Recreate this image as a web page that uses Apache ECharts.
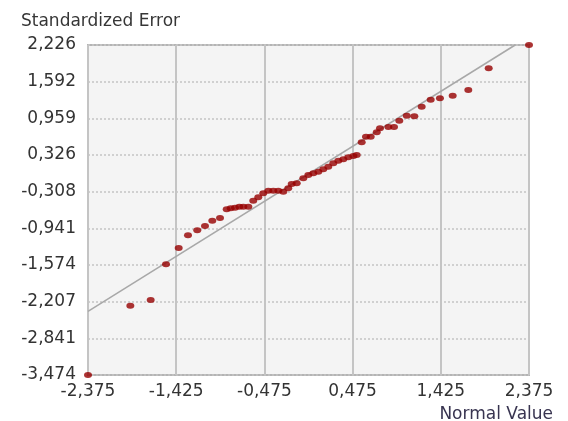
<!DOCTYPE html>
<html>
<head>
<meta charset="utf-8">
<script src="https://cdn.jsdelivr.net/npm/echarts@6/dist/echarts.min.js"></script>
<style>
html,body{margin:0;padding:0;background:#fff;}
#chart{width:568px;height:421px;}
</style>
</head>
<body>
<div id="chart"></div>
<script>
// Normal quantiles (x) and standardized errors (y)
const normalValue = [
  -2.375, -1.919, -1.700, -1.535, -1.398, -1.298, -1.198, -1.115, -1.036, -0.953,
  -0.881, -0.838, -0.792, -0.745, -0.702, -0.648, -0.595, -0.541, -0.487, -0.433,
  -0.379, -0.325, -0.271, -0.218, -0.181, -0.127, -0.056, -0.002, 0.052, 0.106,
  0.159, 0.213, 0.267, 0.321, 0.375, 0.429, 0.483, 0.519, 0.573, 0.619,
  0.670, 0.735, 0.770, 0.860, 0.921, 0.978, 1.058, 1.140, 1.219, 1.316,
  1.416, 1.553, 1.721, 1.941, 2.375
];
const standardizedError = [
  -3.474, -2.277, -2.179, -1.562, -1.280, -1.061, -0.975, -0.900, -0.809, -0.762,
  -0.612, -0.595, -0.584, -0.567, -0.567, -0.567, -0.463, -0.405, -0.336, -0.291,
  -0.291, -0.291, -0.308, -0.249, -0.175, -0.163, -0.076, -0.019, 0.010, 0.038,
  0.079, 0.124, 0.183, 0.228, 0.252, 0.286, 0.309, 0.326, 0.545, 0.642,
  0.642, 0.718, 0.787, 0.810, 0.810, 0.918, 1.005, 0.994, 1.160, 1.281,
  1.305, 1.350, 1.449, 1.824, 2.226
];
// Reference line
const refLineX = [-2.375, 2.226];
const refLineY = [-2.375, 2.226];

// Axis ticks
const xTickLabels = ['-2,375', '-1,425', '-0,475', '0,475', '1,425', '2,375'];
const yTickLabels = ['-3,474', '-2,841', '-2,207', '-1,574', '-0,941', '-0,308', '0,326', '0,959', '1,592', '2,226'];
const xMin = -2.375, xMax = 2.375;
const yMin = -3.474, yMax = 2.226;

const xInterval = (xMax - xMin) / (xTickLabels.length - 1);
const yInterval = (yMax - yMin) / (yTickLabels.length - 1);

const chart = echarts.init(document.getElementById('chart'), null, {renderer: 'canvas'});
const font = '"DejaVu Sans", Verdana, sans-serif';

chart.setOption({
  animation: false,
  backgroundColor: '#ffffff',
  title: [
    {text: 'Standardized Error', left: 16, top: 8,
     textStyle: {fontFamily: font, fontSize: 17, fontWeight: 'normal', color: '#363636'}},
    {text: 'Normal Value', right: 10, top: 401,
     textStyle: {fontFamily: font, fontSize: 17, fontWeight: 'normal', color: '#383450'}}
  ],
  grid: {
    left: 88, right: 39, top: 45, bottom: 46,
    show: true, backgroundColor: '#f4f4f4', borderColor: '#b4b4b4', borderWidth: 2
  },
  xAxis: {
    type: 'value', min: xMin, max: xMax, interval: xInterval,
    axisLine: {show: false}, axisTick: {show: false},
    axisLabel: {
      fontFamily: font, fontSize: 17, color: '#333', margin: 8,
      formatter: v => xTickLabels[Math.round((v - xMin) / xInterval)] || ''
    },
    splitLine: {show: true, lineStyle: {color: '#c4c4c4', width: 2, type: 'solid'}}
  },
  yAxis: {
    type: 'value', min: yMin, max: yMax, interval: yInterval,
    axisLine: {show: false}, axisTick: {show: false},
    axisLabel: {
      fontFamily: font, fontSize: 17, color: '#333', margin: 12,
      formatter: v => yTickLabels[Math.round((v - yMin) / yInterval)] || ''
    },
    splitLine: {show: true, lineStyle: {color: '#c4c4c4', width: 1.5, type: [2, 2]}}
  },
  series: [
    {
      type: 'line',
      data: refLineX.map((x, i) => [x, refLineY[i]]),
      symbol: 'none',
      lineStyle: {color: '#a8a8a8', width: 1.5},
      z: 2
    },
    {
      type: 'scatter',
      data: normalValue.map((x, i) => [x, standardizedError[i]]),
      symbol: 'circle',
      symbolSize: [8, 6],
      itemStyle: {color: '#960000'},
      clip: false,
      z: 3
    }
  ]
});
</script>
</body>
</html>
